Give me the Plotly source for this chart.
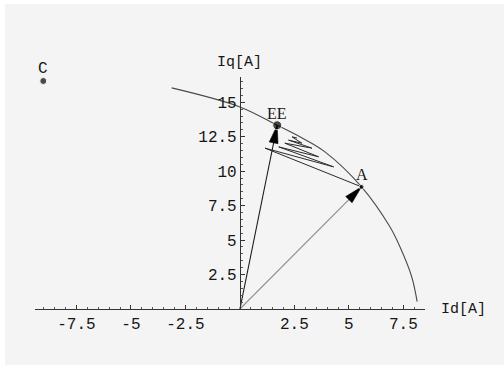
import numpy as np
import plotly.graph_objects as go

# Operating points in the (Id, Iq) plane, amperes
point_names = ["C", "EE", "A"]
point_id = [-9.02, 1.71, 5.58]
point_iq = [16.54, 13.33, 8.86]
point_sizes = [7, 9, 5]

# Limit curve passing through EE and A
arc_id = [-3.13, 0.0, 1.71, 2.75, 3.90, 5.58, 6.88, 7.34, 7.88, 8.13]
arc_iq = [16.04, 14.66, 13.33, 12.49, 11.40, 8.86, 5.96, 4.51, 2.34, 0.53]

# Iteration path starting at A and settling near the curve
path_id = [5.58, 1.15, 4.30, 1.78, 3.61, 2.06, 3.30, 2.23, 2.84, 2.39, 2.62]
path_iq = [8.86, 11.67, 10.31, 11.76, 11.04, 12.03, 11.67, 12.25, 12.03, 12.49, 12.40]

# Axis ticks
x_ticks = [-7.5, -5, -2.5, 2.5, 5, 7.5]
x_tick_text = ["-7.5", "-5", "-2.5", "2.5", "5", "7.5"]
y_ticks = [2.5, 5, 7.5, 10, 12.5, 15]
y_tick_text = ["2.5", "5", "7.5", "10", "12.5", "15"]

# Figure geometry
W, H = 504, 365
ML, MR, MT, MB = 35, 79, 77, 56
X_RANGE = [-9.40, 8.49]
Y_RANGE = [0.0, 16.83]
pw, ph = W - ML - MR, H - MT - MB
sx = pw / (X_RANGE[1] - X_RANGE[0])
sy = ph / (Y_RANGE[1] - Y_RANGE[0])

INK = "#161616"
MONO = "Liberation Mono, Courier New, monospace"
SERIF = "Liberation Serif, Times New Roman, serif"


def arrow_head(x0, y0, x1, y1, length=18.0, width=9.0):
    """Filled slender triangle whose tip sits at (x1, y1), built in pixel space."""
    dx, dy = (x1 - x0) * sx, (y1 - y0) * sy
    n = np.hypot(dx, dy)
    ux, uy = dx / n, dy / n
    bx, by = -ux * length, -uy * length
    px, py = -uy * width / 2, ux * width / 2
    xs = [x1, x1 + (bx + px) / sx, x1 + (bx - px) / sx, x1]
    ys = [y1, y1 + (by + py) / sy, y1 + (by - py) / sy, y1]
    return xs, ys


fig = go.Figure()

# limit curve
fig.add_trace(go.Scatter(x=arc_id, y=arc_iq, mode="lines",
                         line=dict(color="#4a4a4a", width=1.1, shape="spline"),
                         hoverinfo="skip", cliponaxis=False))

# iteration path
fig.add_trace(go.Scatter(x=path_id, y=path_iq, mode="lines",
                         line=dict(color="#2a2a2a", width=1.0),
                         hoverinfo="skip", cliponaxis=False))

# current vectors from the origin to EE and A
vec_colors = {"EE": "#1a1a1a", "A": "#8c8c8c"}
for name in ["EE", "A"]:
    i = point_names.index(name)
    fig.add_trace(go.Scatter(x=[0, point_id[i]], y=[0, point_iq[i]], mode="lines",
                             line=dict(color=vec_colors[name], width=1.1),
                             hoverinfo="skip", cliponaxis=False))
    hx, hy = arrow_head(0, 0, point_id[i], point_iq[i])
    fig.add_trace(go.Scatter(x=hx, y=hy, mode="lines", fill="toself",
                             fillcolor="#000000", line=dict(color="#000000", width=0.5),
                             hoverinfo="skip", cliponaxis=False))

# points and their labels
fig.add_trace(go.Scatter(x=point_id, y=point_iq, mode="markers",
                         marker=dict(color="#000000", size=point_sizes),
                         hoverinfo="skip", cliponaxis=False))
for name, xv, yv in zip(point_names, point_id, point_iq):
    fig.add_annotation(x=xv, y=yv, text=name, showarrow=False, yshift=12,
                       font=dict(family=MONO if name == "C" else SERIF, size=16, color=INK))

# axis labels
fig.add_annotation(x=0, y=1, xref="x", yref="paper", text="Iq[A]", showarrow=False,
                   yanchor="bottom", yshift=4,
                   font=dict(family=MONO, size=15, color=INK))
fig.add_annotation(x=1, y=0, xref="paper", yref="y", text="Id[A]", showarrow=False,
                   xanchor="left", xshift=14,
                   font=dict(family=MONO, size=15, color=INK))

minor_x = [v for v in np.arange(-9.0, 8.5, 0.5) if abs(v) > 1e-9 and v not in x_ticks]
minor_y = [v for v in np.arange(0.5, 16.8, 0.5) if v not in y_ticks]

fig.update_layout(
    width=W, height=H,
    margin=dict(l=ML, r=MR, t=MT, b=MB),
    paper_bgcolor="#f4f4f4",
    plot_bgcolor="rgba(0,0,0,0)",
    showlegend=False,
    xaxis=dict(range=X_RANGE, showgrid=False, zeroline=False,
               showline=True, linecolor="#333333", linewidth=1,
               tickvals=x_ticks, ticktext=x_tick_text,
               ticks="inside", ticklen=4, tickcolor="#333333",
               minor=dict(tickvals=minor_x, ticks="inside", ticklen=2, tickcolor="#555555"),
               tickfont=dict(family=MONO, size=16, color=INK),
               fixedrange=True),
    yaxis=dict(range=Y_RANGE, showgrid=False, zeroline=False,
               anchor="free", position=(0 - X_RANGE[0]) / (X_RANGE[1] - X_RANGE[0]),
               showline=True, linecolor="#333333", linewidth=1,
               tickvals=y_ticks, ticktext=y_tick_text,
               ticks="inside", ticklen=4, tickcolor="#333333",
               minor=dict(tickvals=minor_y, ticks="inside", ticklen=2, tickcolor="#555555"),
               tickfont=dict(family=MONO, size=16, color=INK),
               fixedrange=True),
    # thin white strips along the top and left edges of the page
    shapes=[
        dict(type="rect", xref="paper", yref="paper", layer="below",
             x0=-ML / pw, x1=(W - ML) / pw, y0=1 + (MT - 4) / ph, y1=1 + MT / ph,
             fillcolor="white", line=dict(width=0)),
        dict(type="rect", xref="paper", yref="paper", layer="below",
             x0=-ML / pw, x1=-(ML - 5) / pw, y0=-MB / ph, y1=1 + MT / ph,
             fillcolor="white", line=dict(width=0)),
    ],
)

fig.write_html("out.html")
